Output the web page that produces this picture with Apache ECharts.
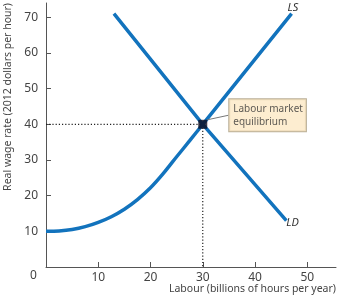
<!DOCTYPE html>
<html><head><meta charset="utf-8">
<script src="https://cdn.jsdelivr.net/npm/echarts@6/dist/echarts.min.js"></script>
<style>html,body{margin:0;padding:0;background:#fff}#c{width:338px;height:300px}</style>
</head><body><div id="c"></div>
<script>
var xTicks = [0, 10, 20, 30, 40, 50];
var yTicks = [10, 20, 30, 40, 50, 60, 70];
var lsCurve = [[0,10],[2.5,10.1],[5,10.5],[7.5,11.3],[10,12.5],[12.5,14.1],[15,16.2],[17.5,18.9],[20,22.2],[22.5,26.3],[25,30.9],[27.5,35.4],[30,40],[47,71]];
var ldCurve = [[13,71],[30,40],[46,13]];
var equilibrium = [30, 40];
var eqLabel = 'Labour market\nequilibrium';
var yName = 'Real wage rate (2012 dollars per hour)';
var xName = 'Labour (billions of hours per year)';

var FONT = '"Noto Sans", sans-serif';
var TXT = '#444';
var BLUE = '#1273bd';
var chart = echarts.init(document.getElementById('c'));
chart.setOption({
  animation: false,
  grid: {left: 46, right: 2, top: 3, bottom: 33},
  xAxis: {
    type: 'value', min: 0, max: 55.5, interval: 10,
    axisLine: {lineStyle: {color: '#555', width: 1}},
    axisTick: {inside: true, length: 5, lineStyle: {color: '#555'}},
    splitLine: {show: false},
    axisLabel: {color: TXT, fontFamily: FONT, fontSize: 12, margin: 5,
      showMaxLabel: false,
      formatter: function (v) { return (v === 0 || xTicks.indexOf(v) < 0) ? '' : String(v); }}
  },
  yAxis: {
    type: 'value', min: 0, max: 74, interval: 10,
    axisLine: {show: true, lineStyle: {color: '#555', width: 1}},
    axisTick: {show: true, inside: true, length: 5, lineStyle: {color: '#555'}},
    splitLine: {show: false},
    axisLabel: {color: TXT, fontFamily: FONT, fontSize: 12, margin: 8,
      showMaxLabel: false,
      formatter: function (v) { return yTicks.indexOf(v) < 0 ? '' : String(v); }}
  },
  graphic: [
    {type: 'text', left: 30, top: 270, style: {text: '0', fill: TXT, font: '12px ' + FONT}},
    {type: 'text', x: 3, y: 3, rotation: Math.PI / 2,
      style: {text: yName, fill: TXT, font: '10.5px ' + FONT, textAlign: 'right', textVerticalAlign: 'top'}},
    {type: 'text', right: 2, top: 284, style: {text: xName, fill: TXT, font: '10.5px ' + FONT}}
  ],
  series: [
    {type: 'line', data: [[0, equilibrium[1]], equilibrium], showSymbol: false, silent: true,
      lineStyle: {color: '#222', width: 1.2, type: [1.2, 2]}},
    {type: 'line', data: [equilibrium, [equilibrium[0], 0]], showSymbol: false, silent: true,
      lineStyle: {color: '#222', width: 1.2, type: [1.2, 2]}},
    {type: 'line', data: lsCurve, smooth: 0.3, showSymbol: false,
      lineStyle: {color: BLUE, width: 3.5},
      endLabel: {show: true, formatter: 'LS', fontStyle: 'italic', fontFamily: FONT, fontSize: 11, color: '#333', offset: [-12, -6]}},
    {type: 'line', data: ldCurve, showSymbol: false,
      lineStyle: {color: BLUE, width: 3.5},
      endLabel: {show: true, formatter: 'LD', fontStyle: 'italic', fontFamily: FONT, fontSize: 11, color: '#333', offset: [-8, 2]}},
    {type: 'scatter', data: [equilibrium], symbol: 'rect', symbolSize: 9, z: 5,
      itemStyle: {color: '#0b0b1e'},
      label: {show: true, position: 'right', formatter: eqLabel, color: '#333', fontFamily: FONT, fontSize: 10,
        lineHeight: 13, backgroundColor: '#fce8c4', borderColor: '#a89a7c', borderWidth: 1, padding: [3, 3, 3, 4], align: 'left'},
      labelLayout: {dx: 17, dy: -9},
      labelLine: {show: true, lineStyle: {color: '#777', width: 1}}}
  ]
});
</script></body></html>
